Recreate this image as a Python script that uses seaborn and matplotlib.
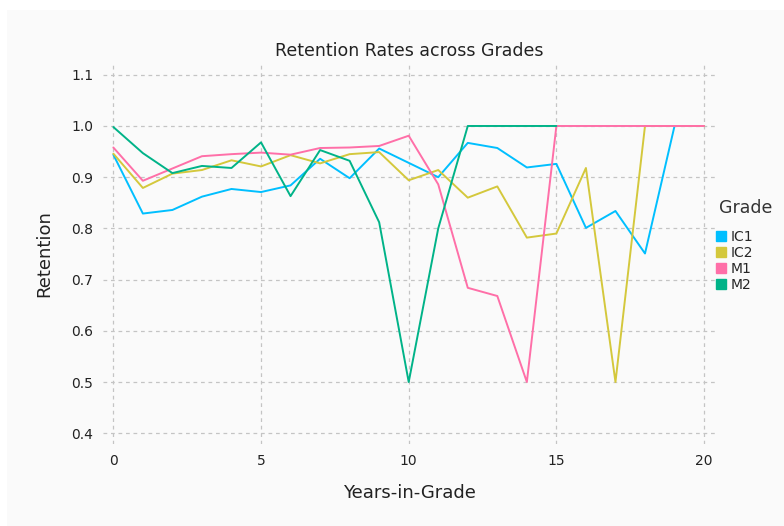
import matplotlib
matplotlib.use("Agg")
import matplotlib.pyplot as plt
from matplotlib.patches import Rectangle
from matplotlib.lines import Line2D
import numpy as np
import pandas as pd
import seaborn as sns

years = list(range(21))
ic1 = [0.944, 0.829, 0.836, 0.862, 0.877, 0.871, 0.884, 0.936, 0.898, 0.956, 0.928,
       0.900, 0.967, 0.957, 0.919, 0.926, 0.801, 0.834, 0.751, 1.0, 1.0]
ic2 = [0.946, 0.879, 0.907, 0.914, 0.933, 0.921, 0.943, 0.927, 0.945, 0.949, 0.894,
       0.914, 0.860, 0.882, 0.782, 0.790, 0.918, 0.5, 1.0, 1.0, 1.0]
m1 = [0.958, 0.893, 0.917, 0.941, 0.945, 0.948, 0.944, 0.957, 0.958, 0.961, 0.981,
      0.886, 0.684, 0.668, 0.5, 1.0, 1.0, 1.0, 1.0, 1.0, 1.0]
m2 = [0.998, 0.947, 0.908, 0.922, 0.918, 0.968, 0.863, 0.953, 0.932, 0.812, 0.5,
      0.80, 1.0, 1.0, 1.0, 1.0]
grades = ["IC1", "IC2", "M1", "M2"]
colors = ["#00bfff", "#d4c83c", "#ff6fa8", "#00b388"]

rows = []
for g, vals in zip(grades, [ic1, ic2, m1, m2]):
    for yr, v in zip(years, vals):
        rows.append({"Years-in-Grade": yr, "Retention": v, "Grade": g})
df = pd.DataFrame(rows)

sns.set_style("white")
plt.rcParams['font.family'] = ['DejaVu Sans']

fig = plt.figure(figsize=(7.84, 5.26), dpi=100)
fig.patch.set_facecolor("white")
fig.patches.append(Rectangle((7/784, 0), 1, 1 - 10/526, transform=fig.transFigure,
                             facecolor="#fafafa", edgecolor="none", zorder=-10))
ax = fig.add_axes([103/784, 1 - 444/526, (715 - 103)/784, (444 - 63)/526])
ax.set_facecolor("#fafafa")

sns.lineplot(data=df, x="Years-in-Grade", y="Retention", hue="Grade",
             hue_order=grades, palette=colors, linewidth=1.4, ax=ax, legend=False)

ax.set_xlim(-0.35, 20.37)
ax.set_ylim(0.379, 1.123)
ax.set_xticks([0, 5, 10, 15, 20])
ax.set_yticks(np.arange(0.4, 1.11, 0.1))
ax.set_yticklabels([f"{t:.1f}" for t in np.arange(0.4, 1.11, 0.1)])
ax.grid(True, linestyle=(0, (3, 3)), color="#c4c4c4", linewidth=0.9)
for s in ax.spines.values():
    s.set_visible(False)
ax.tick_params(length=0, labelsize=10, colors="#222222", pad=7)
ax.set_title("Retention Rates across Grades", fontsize=12.5, color="#222222", pad=5)
ax.set_xlabel("Years-in-Grade", fontsize=13, color="#222222", labelpad=12)
ax.set_ylabel("Retention", fontsize=13, color="#222222", labelpad=13)

fig.text(719/784, 1 - 208/526, "Grade", fontsize=12.5, color="#333333",
         ha="left", va="center")
handles = [Line2D([], [], marker="s", linestyle="none", markersize=7,
                  markerfacecolor=c, markeredgecolor=c) for c in colors]
ax.legend(handles, grades, loc="center left",
          bbox_to_anchor=(714/784, 1 - 261/526), bbox_transform=fig.transFigure,
          frameon=False, fontsize=10, handletextpad=0.2, labelspacing=0.15,
          handlelength=1.0, borderpad=0, borderaxespad=0)

fig.savefig("out.png", dpi=100, facecolor=fig.get_facecolor())
